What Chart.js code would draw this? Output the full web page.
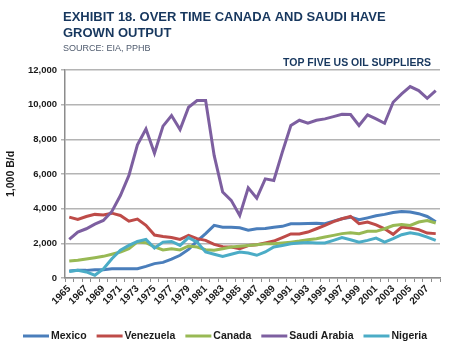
<!DOCTYPE html>
<html>
<head>
<meta charset="utf-8">
<script src="https://cdn.jsdelivr.net/npm/chart.js@4.4.1/dist/chart.umd.min.js"></script>
<style>
  html, body { margin: 0; padding: 0; background: #fff; }
  #wrap { width: 450px; height: 352px; }
</style>
</head>
<body>
<div id="wrap"><canvas id="chart" width="450" height="352"></canvas></div>
<script>
// Datos: produccion (1,000 B/d) de los cinco mayores proveedores de crudo a EE.UU.
const years = ['1965','1966','1967','1968','1969','1970','1971','1972','1973','1974',
  '1975','1976','1977','1978','1979','1980','1981','1982','1983','1984',
  '1985','1986','1987','1988','1989','1990','1991','1992','1993','1994',
  '1995','1996','1997','1998','1999','2000','2001','2002','2003','2004',
  '2005','2006','2007','2008'];

const mexico = [400,440,440,480,480,540,540,540,540,670,
  830,900,1090,1310,1650,2130,2560,3040,2930,2930,
  2900,2760,2840,2850,2930,2980,3130,3130,3140,3160,
  3130,3280,3420,3510,3360,3470,3590,3670,3780,3840,
  3810,3710,3550,3250];

const venezuela = [3510,3380,3550,3670,3630,3740,3610,3280,3400,3040,
  2480,2400,2340,2230,2460,2270,2170,1940,1810,1790,
  1690,1870,1920,2020,2130,2330,2540,2540,2650,2840,
  3030,3250,3420,3550,3130,3230,3070,2840,2520,2940,
  2880,2790,2590,2560];

const canada = [980,1020,1090,1170,1250,1370,1500,1690,2080,2040,
  1800,1620,1680,1620,1850,1790,1630,1600,1690,1790,
  1830,1870,1920,1980,1980,2020,2070,2130,2210,2270,
  2360,2460,2560,2610,2560,2690,2690,2840,3030,3090,
  3030,3230,3320,3170];

const saudi = [2230,2650,2840,3110,3320,3840,4760,5920,7680,8600,
  7200,8760,9370,8560,9850,10240,10240,7070,4960,4480,
  3610,5200,4610,5720,5630,7260,8800,9100,8930,9100,
  9180,9310,9450,9430,8800,9410,9180,8930,10140,10620,
  11040,10810,10370,10810];

const nigeria = [370,440,350,160,520,1110,1600,1880,2110,2230,
  1730,2070,2110,1880,2330,2070,1500,1370,1250,1370,
  1500,1440,1310,1500,1790,1880,1980,2020,2050,2020,
  2020,2170,2330,2210,2070,2170,2300,2070,2270,2500,
  2610,2520,2360,2170];

const seriesNames = ['Mexico', 'Venezuela', 'Canada', 'Saudi Arabia', 'Nigeria'];
const seriesColors = ['#4a7ebb', '#be4b48', '#98b954', '#7d5fa0', '#4bacc6'];
const seriesData = [mexico, venezuela, canada, saudi, nigeria];

const FONT = '"Liberation Sans", Arial, sans-serif';
const NAVY = '#17375e';

// Titulos y leyenda dibujados a mano (posiciones fijas como en el original)
const decor = {
  id: 'decor',
  beforeDraw(chart) {
    const ctx = chart.ctx;
    ctx.save();
    ctx.fillStyle = '#fff';
    ctx.fillRect(0, 0, chart.width, chart.height);
    ctx.restore();
  },
  afterDraw(chart) {
    const ctx = chart.ctx;
    ctx.save();
    ctx.textBaseline = 'alphabetic';
    ctx.fillStyle = NAVY;
    ctx.font = 'bold 13px ' + FONT;
    ctx.textAlign = 'left';
    ctx.fillText('EXHIBIT 18. OVER TIME CANADA AND SAUDI HAVE', 63, 21);
    ctx.fillText('GROWN OUTPUT', 63, 37);
    ctx.fillStyle = '#4f5b6e';
    ctx.font = '9px ' + FONT;
    ctx.fillText('SOURCE: EIA, PPHB', 63, 51);
    ctx.fillStyle = NAVY;
    ctx.font = 'bold 10.5px ' + FONT;
    ctx.textAlign = 'right';
    ctx.fillText('TOP FIVE US OIL SUPPLIERS', 431, 66);

    // leyenda
    ctx.textAlign = 'left';
    ctx.textBaseline = 'middle';
    ctx.font = 'bold 10.5px ' + FONT;
    let x = 23;
    const y = 336;
    chart.data.datasets.forEach((ds) => {
      ctx.strokeStyle = ds.borderColor;
      ctx.lineWidth = 3;
      ctx.beginPath();
      ctx.moveTo(x, y);
      ctx.lineTo(x + 26, y);
      ctx.stroke();
      ctx.fillStyle = '#1a1a1a';
      ctx.fillText(ds.label, x + 28, y);
      x += 28 + ctx.measureText(ds.label).width + 10;
    });
    ctx.restore();
  }
};

new Chart(document.getElementById('chart'), {
  type: 'line',
  data: {
    labels: years,
    datasets: seriesNames.map((name, i) => ({
      label: name,
      data: seriesData[i],
      borderColor: seriesColors[i],
      backgroundColor: seriesColors[i],
      borderWidth: 3,
      pointRadius: 0,
      tension: 0,
      fill: false,
      order: seriesNames.length - i
    }))
  },
  options: {
    responsive: false,
    animation: false,
    devicePixelRatio: 1,
    layout: { padding: { left: 5, right: 10, top: 70, bottom: 0 } },
    plugins: {
      legend: { display: false },
      title: { display: false },
      tooltip: { enabled: false }
    },
    scales: {
      x: {
        offset: true,
        afterFit(scale) { scale.height = 74; },
        grid: {
          offset: true,
          drawOnChartArea: false,
          drawTicks: true,
          tickLength: 4,
          color: '#8c8c8c',
          lineWidth: 1
        },
        border: { color: '#8c8c8c', width: 1.5 },
        ticks: {
          autoSkip: false,
          minRotation: 45,
          maxRotation: 45,
          padding: 1,
          color: '#1a1a1a',
          font: { family: FONT, size: 10, weight: 'bold' },
          callback(val, i) { return i % 2 === 0 ? this.getLabelForValue(val) : ''; }
        }
      },
      y: {
        min: 0,
        max: 12000,
        afterFit(scale) { scale.width = 60; },
        grid: {
          color: '#b4b4b4',
          lineWidth: 1.5,
          drawTicks: true,
          tickLength: 4
        },
        border: { color: '#8c8c8c', width: 1.5 },
        ticks: {
          stepSize: 2000,
          padding: 4,
          color: '#1a1a1a',
          font: { family: FONT, size: 9.5, weight: 'bold' }
        },
        title: {
          display: true,
          text: '1,000 B/d',
          color: '#1a1a1a',
          padding: { top: 0, bottom: 0 },
          font: { family: FONT, size: 10.5, weight: 'bold' }
        }
      }
    }
  },
  plugins: [decor]
});
</script>
</body>
</html>
